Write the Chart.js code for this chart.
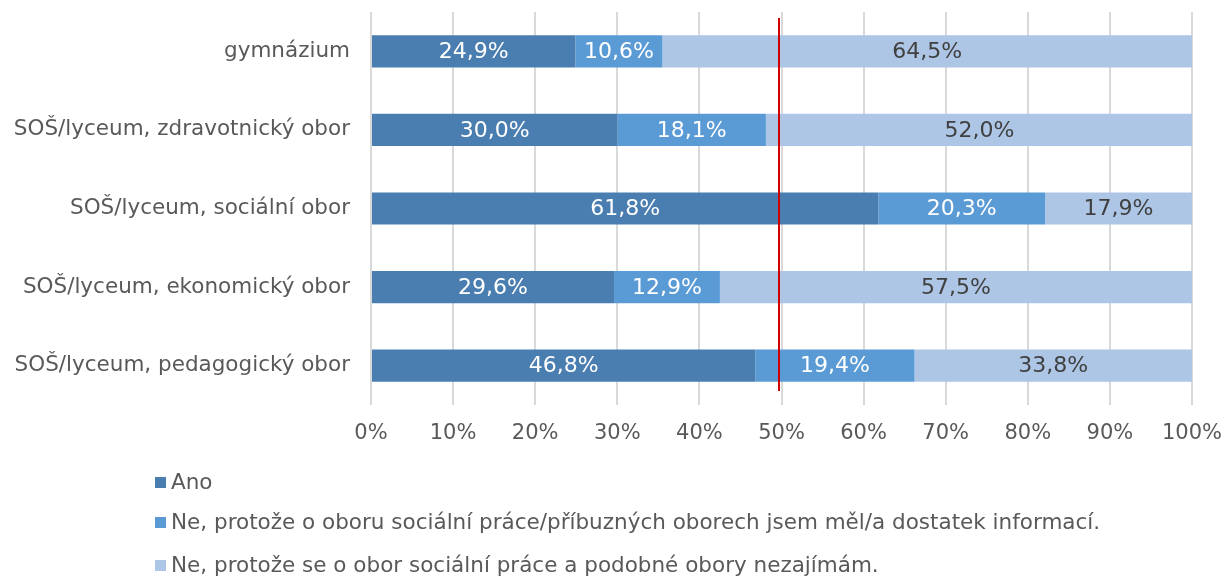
<!DOCTYPE html>
<html>
<head>
<meta charset="utf-8">
<script src="https://cdn.jsdelivr.net/npm/chart.js@4"></script>
<style>
html,body{margin:0;padding:0;background:#fff;}
#wrap{width:1225px;height:577px;position:relative;}
</style>
</head>
<body>
<div id="wrap"><canvas id="c" width="1225" height="577"></canvas></div>
<script>
const categories = [
  "gymnázium",
  "SOŠ/lyceum, zdravotnický obor",
  "SOŠ/lyceum, sociální obor",
  "SOŠ/lyceum, ekonomický obor",
  "SOŠ/lyceum, pedagogický obor"
];
const seriesNames = [
  "Ano",
  "Ne, protože o oboru sociální práce/příbuzných oborech jsem měl/a dostatek informací.",
  "Ne, protože se o obor sociální práce a podobné obory nezajímám."
];
const anoValues = [24.9, 30.0, 61.8, 29.6, 46.8];
const neInfoValues = [10.6, 18.1, 20.3, 12.9, 19.4];
const neZajemValues = [64.5, 52.0, 17.9, 57.5, 33.8];
const xTickValues = [0,10,20,30,40,50,60,70,80,90,100];
const referenceValue = 50;

const colors = ["#4A7EB0", "#5B9BD5", "#ADC6E6"];
const labelColors = ["#FFFFFF", "#FFFFFF", "#404040"];
const FONT = "'DejaVu Sans', Verdana, sans-serif";

const fmt = v => v.toFixed(1).replace('.', ',') + '%';

const dataLabelPlugin = {
  id: 'dataLabels',
  afterDatasetsDraw(chart) {
    const ctx = chart.ctx;
    ctx.save();
    ctx.font = "22px " + FONT;
    ctx.textAlign = 'center';
    ctx.textBaseline = 'middle';
    chart.data.datasets.forEach((ds, di) => {
      const meta = chart.getDatasetMeta(di);
      meta.data.forEach((el, i) => {
        const p = el.getCenterPoint();
        ctx.fillStyle = labelColors[di];
        ctx.fillText(fmt(ds.data[i]), p.x, p.y + 1);
      });
    });
    ctx.restore();
  }
};

const refLinePlugin = {
  id: 'refLine',
  afterDatasetsDraw(chart) {
    const ctx = chart.ctx, x = Math.round(chart.scales.x.getPixelForValue(referenceValue)) - 3;
    const a = chart.chartArea;
    ctx.save();
    ctx.strokeStyle = '#D00000';
    ctx.lineWidth = 2;
    ctx.beginPath();
    ctx.moveTo(x, a.top + 6);
    ctx.lineTo(x, a.bottom - 14);
    ctx.stroke();
    ctx.restore();
  }
};

const legendPlugin = {
  id: 'customLegend',
  afterDraw(chart) {
    const ctx = chart.ctx;
    ctx.save();
    ctx.font = "21.5px " + FONT;
    ctx.textBaseline = 'middle';
    ctx.textAlign = 'left';
    const x0 = 155;
    const ys = [483, 523, 566];
    seriesNames.forEach((name, i) => {
      ctx.fillStyle = colors[i];
      ctx.fillRect(x0, ys[i] - 6, 11, 11);
      ctx.fillStyle = '#595959';
      ctx.fillText(name, x0 + 16, ys[i]);
    });
    ctx.restore();
  }
};

new Chart(document.getElementById('c'), {
  type: 'bar',
  data: {
    labels: categories,
    datasets: [
      { label: seriesNames[0], data: anoValues, backgroundColor: colors[0] },
      { label: seriesNames[1], data: neInfoValues, backgroundColor: colors[1] },
      { label: seriesNames[2], data: neZajemValues, backgroundColor: colors[2] }
    ]
  },
  options: {
    indexAxis: 'y',
    responsive: false,
    animation: false,
    devicePixelRatio: 1,
    categoryPercentage: 1,
    barPercentage: 0.41,
    layout: { padding: { top: 12, right: 33, bottom: 127, left: 0 } },
    plugins: { legend: { display: false }, tooltip: { enabled: false } },
    scales: {
      x: {
        stacked: true,
        min: 0, max: 100,
        afterBuildTicks(scale) { scale.ticks = xTickValues.map(v => ({ value: v })); },
        afterFit(scale) { scale.height = 45; scale.paddingLeft = 0; scale.paddingRight = 0; },
        grid: { color: '#D9D9D9', lineWidth: 2, drawTicks: false },
        border: { display: false },
        ticks: {
          color: '#595959',
          font: { family: FONT, size: 21 },
          padding: 16,
          maxRotation: 0,
          callback: v => v + '%'
        }
      },
      y: {
        stacked: true,
        afterFit(scale) { scale.width = 371; scale.paddingTop = 0; scale.paddingBottom = 0; },
        grid: { display: false },
        border: { display: false },
        ticks: {
          color: '#595959',
          font: { family: FONT, size: 21.5 },
          padding: 13
        }
      }
    }
  },
  plugins: [dataLabelPlugin, refLinePlugin, legendPlugin]
});
</script>
</body>
</html>
